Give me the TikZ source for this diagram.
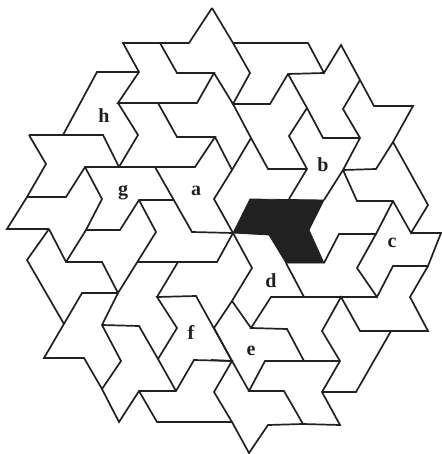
\documentclass[tikz,border=0pt]{standalone}
\usepackage{fontspec}
\setmainfont{Liberation Serif}
\usepackage{xcolor}
\definecolor{inkdark}{gray}{0.13}
\begin{document}
\begin{tikzpicture}[
    x=1pt, y=-1pt,
    tile/.style={draw=inkdark, line width=1.7pt, line join=miter},
    solid tile/.style={draw=inkdark, fill=inkdark, line width=0.8pt},
    letter/.style={font=\fontsize{20}{20}\selectfont\bfseries, text=inkdark, inner sep=0pt}
]
\useasboundingbox (0,0) rectangle (441,454);
% black tile
\draw[solid tile] (233,233) -- (250,199) -- (324,200) -- (309,230) -- (324,263) -- (286,263) -- (269,235) -- cycle;
% upper left
\draw[tile] (212,8) -- (189,43) -- (123,43) -- (139,72) -- (118,103) -- (197,103) -- (214,73) -- (177,73) -- (160,43);
\draw[tile] (139,72) -- (97,72) -- (63,135);
\draw[tile] (118,103) -- (138,135) -- (119,167);
\draw[tile] (29,135) -- (103,135) -- (119,167);
\draw[tile] (29,135) -- (46,164) -- (27,197) -- (7,229) -- (49,229);
\draw[tile] (27,197) -- (66,197) -- (85,167) -- (195,167) -- (215,137) -- (177,137) -- (158,103);
\draw[tile] (85,167) -- (102,199) -- (86,230) -- (120,230) -- (139,200) -- (173,200);
\draw[tile] (139,200) -- (156,232) -- (118,293);
\draw[tile] (155,167) -- (192,232) -- (233,233);
% upper right
\draw[tile] (212,8) -- (233,43) -- (250,73) -- (233,104) -- (214,73);
\draw[tile] (233,43) -- (308,43) -- (324,73) -- (341,45) -- (360,80) -- (374,106) -- (413,106) -- (393,142) -- (376,169) -- (343,170);
\draw[tile] (360,80) -- (343,109) -- (360,138) -- (343,170) -- (324,200);
\draw[tile] (324,73) -- (288,74) -- (270,104) -- (233,104) -- (251,138) -- (268,169) -- (307,169);
\draw[tile] (288,74) -- (307,108) -- (323,138) -- (360,138);
\draw[tile] (307,108) -- (289,136) -- (307,169) -- (289,199);
\draw[tile] (251,138) -- (232,170) -- (214,199) -- (233,233);
\draw[tile] (215,137) -- (232,170);
\draw[tile] (393,142) -- (428,205) -- (411,233) -- (393,201) -- (357,201) -- (343,170);
\draw[tile] (393,201) -- (376,234) -- (339,234) -- (324,263);
\draw[tile] (411,233) -- (441,233) -- (428,266) -- (393,266) -- (377,297) -- (357,268) -- (376,234);
% lower right
\draw[tile] (428,266) -- (410,297) -- (428,331) -- (360,331) -- (341,297) -- (322,331) -- (340,361) -- (322,392) -- (340,425) -- (303,424) -- (284,391) -- (249,391) -- (265,361) -- (340,361);
\draw[tile] (391,331) -- (356,392) -- (322,392);
\draw[tile] (304,361) -- (287,329) -- (251,328) -- (271,297) -- (377,297);
\draw[tile] (286,263) -- (304,297);
\draw[tile] (233,233) -- (252,268) -- (232,301) -- (251,328);
\draw[tile] (232,301) -- (214,328) -- (232,361) -- (249,391);
\draw[tile] (211,360) -- (232,361) -- (214,392) -- (232,422) -- (249,453) -- (268,425) -- (303,424);
% lower left
\draw[tile] (49,229) -- (66,262) -- (102,262) -- (118,293) -- (102,325) -- (121,361) -- (102,389) -- (119,422) -- (139,391) -- (176,391) -- (194,360) -- (232,361);
\draw[tile] (49,229) -- (27,260) -- (64,324);
\draw[tile] (66,262) -- (86,230);
\draw[tile] (118,293) -- (82,293) -- (44,358) -- (84,358) -- (102,389);
\draw[tile] (139,391) -- (157,422) -- (232,422);
\draw[tile] (102,325) -- (139,326) -- (158,359) -- (176,391);
\draw[tile] (158,359) -- (177,328) -- (157,297) -- (196,296) -- (232,361);
\draw[tile] (157,297) -- (178,262);
\draw[tile] (138,262) -- (217,262) -- (233,233);
% labels
\node[letter] (h) at (104,116) {h};
\node[letter] (g) at (123,193) {g};
\node[letter] (a) at (196,191) {a};
\node[letter] (b) at (323,165) {b};
\node[letter] (c) at (392,243) {c};
\node[letter] (d) at (271,281) {d};
\node[letter] (e) at (251,351) {e};
\node[letter] (f) at (191,332) {f};
\end{tikzpicture}
\end{document}
